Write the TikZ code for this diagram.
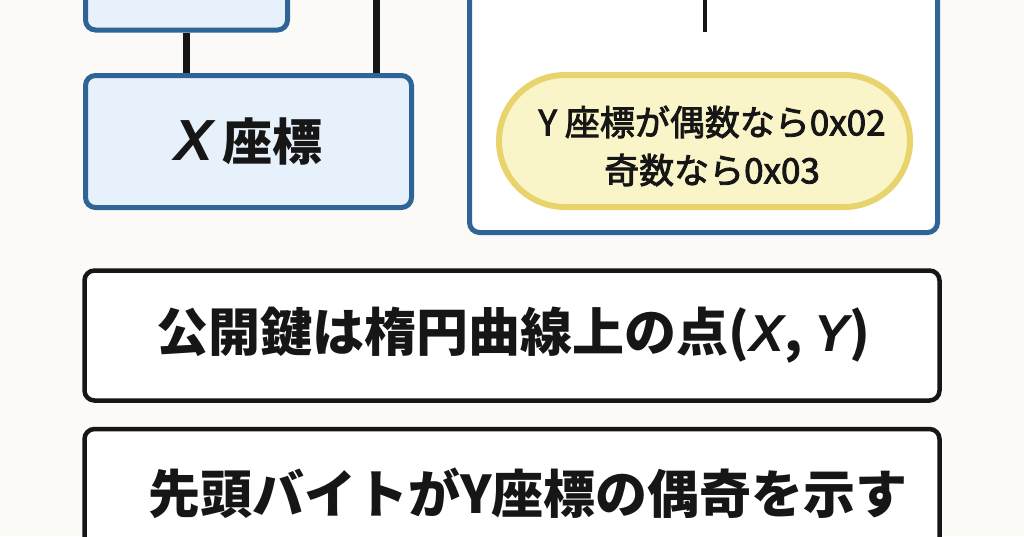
\documentclass[tikz,border=0pt]{standalone}
\usepackage{fontspec}
\setmainfont{Noto Sans CJK JP}
\newfontfamily\lat{Liberation Sans}
\newfontfamily\jpm{Noto Sans CJK JP}[FakeBold=2.5]
\definecolor{bg}{HTML}{FBFAF7}
\definecolor{boxblue}{HTML}{2F6496}
\definecolor{lightblue}{HTML}{E6F1FB}
\definecolor{pillfill}{HTML}{FAF5C8}
\definecolor{pillline}{HTML}{E8D36C}
\definecolor{ink}{HTML}{161616}
\tikzset{
  bluebox/.style={draw=boxblue, line width=5pt, fill=lightblue, rounded corners=10pt, inner sep=0pt},
  contbox/.style={draw=boxblue, line width=5pt, fill=white, rounded corners=10pt, inner sep=0pt},
  pillbox/.style={draw=pillline, line width=6pt, fill=pillfill, rounded corners=66pt, inner sep=0pt},
  blackbox/.style={draw=ink, line width=4.5pt, fill=white, rounded corners=10pt, inner sep=0pt},
  conn/.style={draw=ink, line width=7pt},
  thinconn/.style={draw=ink, line width=4pt},
  bigtext/.style={font=\bfseries\fontsize{52}{60}\selectfont, text=ink},
}
\begin{document}
\begin{tikzpicture}[x=1pt,y=-1pt]
\useasboundingbox[fill=bg] (0,0) rectangle (1024,536);
% top-left box (cut off)
\node[bluebox, minimum width=202pt, minimum height=60pt] (topbox) at (186.5,0) {};
% right container (cut off)
\node[contbox, minimum width=468pt, minimum height=272.5pt] (cont) at (703.5,96.25) {};
% X box
\node[bluebox, minimum width=326pt, minimum height=132pt, font=\bfseries\fontsize{50}{54}\selectfont, text=ink] (xbox) at (248.5,141.5) {{\lat\bfseries\itshape\fontsize{58}{60}\selectfont X}\,座標};
% connectors
\coordinate (c1) at (376,-10);
\draw[conn] (topbox.south) -- (topbox.south |- xbox.north);
\draw[conn] (c1) -- (c1 |- xbox.north);
\coordinate (c2) at (705,-10);
\coordinate (c2end) at (705,32);
\draw[thinconn] (c2) -- (c2end);
% pill
\node[pillbox, minimum width=411pt, minimum height=132pt] (pill) at (704.5,141) {};
\node[font=\jpm\fontsize{35}{48}\selectfont, text=ink, align=center, inner sep=0pt] (pilltext) at (712,146) {Y 座標が偶数なら0x02\\奇数なら0x03};
% box 3
\node[blackbox, minimum width=855pt, minimum height=130pt] (box3) at (512,335.5) {};
\node[bigtext, inner sep=0pt] (t3) at (513.5,335) {公開鍵は楕円曲線上の点({\lat\bfseries\itshape X}, {\lat\bfseries\itshape Y})};
% box 4
\node[blackbox, minimum width=855pt, minimum height=131pt] (box4) at (512,494.5) {};
\node[bigtext, inner sep=0pt] (t4) at (528,493) {先頭バイトがY座標の偶奇を示す};
\end{tikzpicture}
\end{document}
